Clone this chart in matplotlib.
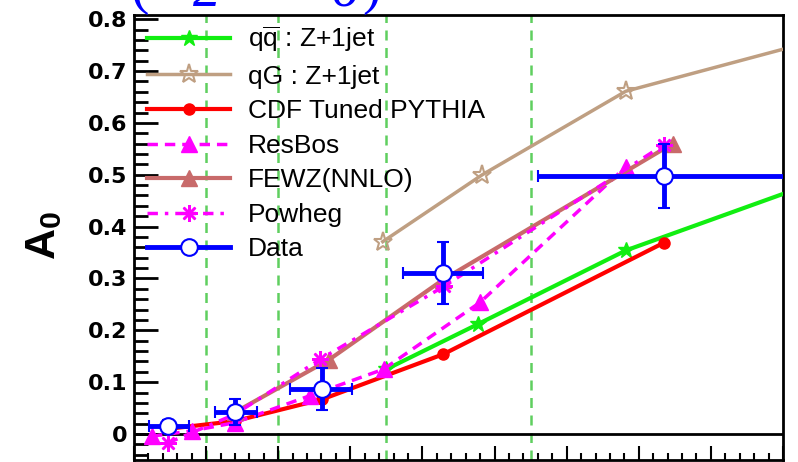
import matplotlib
matplotlib.use("Agg")
import matplotlib.pyplot as plt
from matplotlib.lines import Line2D

plt.rcParams['font.family'] = ['Liberation Sans', 'DejaVu Sans']
plt.rcParams['mathtext.fontset'] = 'custom'
plt.rcParams['mathtext.rm'] = 'Liberation Sans'
plt.rcParams['mathtext.bf'] = 'Liberation Sans:bold'

# bin edges drawn as dashed lines
bin_edges = [10, 20, 35, 55]

# measured A0 (open circles)
data_x = [4.7, 14.0, 26.1, 42.9, 73.5]
data_y = [0.015, 0.042, 0.087, 0.310, 0.498]
data_xlo = [2.1, 11.2, 21.6, 37.3, 56.0]
data_xhi = [7.6, 17.1, 30.2, 48.4, 95.0]
data_err = [0.012, 0.025, 0.040, 0.060, 0.062]

# predictions
qq_x = [35.0, 47.7, 68.2, 90.0]
qq_y = [0.125, 0.212, 0.354, 0.463]
qg_x = [34.5, 48.3, 68.2, 90.0]
qg_y = [0.371, 0.500, 0.661, 0.742]
pythia_x = [4.7, 14.0, 26.1, 42.9, 73.5]
pythia_y = [0.010, 0.025, 0.067, 0.154, 0.369]
resbos_x = [2.5, 8.0, 14.0, 24.4, 34.6, 48.0, 68.2]
resbos_y = [-0.004, 0.006, 0.022, 0.074, 0.125, 0.254, 0.515]
fewz_x = [14.0, 27.0, 42.9, 74.7]
fewz_y = [0.042, 0.143, 0.298, 0.560]
powheg_x = [4.7, 14.0, 25.8, 43.0, 73.5]
powheg_y = [-0.017, 0.038, 0.144, 0.285, 0.558]

c_qq = '#11ee11'
c_qg = '#bf9f82'
c_red = '#ff0000'
c_mag = '#ff00ff'
c_fewz = '#c86a6a'
c_blue = '#0000ff'

fig = plt.figure(figsize=(7.98, 4.62), dpi=100)
ax = fig.add_axes([134/798, 2/462, (783-134)/798, (460-15)/462])

for e in bin_edges:
    ax.axvline(e, color='#5fcf5f', lw=1.8, ls=(0, (4, 3)), zorder=1, clip_on=False)
ax.axhline(0, color='black', lw=2, zorder=1.5)

ax.plot(qq_x, qq_y, color=c_qq, lw=3, marker='*', ms=12, markevery=[0, 1, 2], zorder=3,
        label=r'q$\overline{\mathrm{q}}$ : Z+1jet')
ax.plot(qg_x, qg_y, color=c_qg, lw=2.5, marker='*', ms=14, mfc='none', mew=1.5,
        markevery=[0, 1, 2], zorder=3, label='qG : Z+1jet')
ax.plot(pythia_x, pythia_y, color=c_red, lw=3, marker='o', ms=8, zorder=3,
        label='CDF Tuned PYTHIA')
ax.plot(resbos_x, resbos_y, color=c_mag, lw=2.5, ls=(0, (3, 2)), marker='^', ms=11, zorder=3,
        label='ResBos')
ax.plot(fewz_x, fewz_y, color=c_fewz, lw=3, marker='^', ms=12, zorder=3,
        label='FEWZ(NNLO)')
ax.plot(powheg_x, powheg_y, color=c_mag, lw=2.5, ls=(0, (3, 2, 1, 2)), marker=(8, 2, 0),
        ms=12, mew=1.8, zorder=3, label='Powheg')

xerr = [[x - lo for x, lo in zip(data_x, data_xlo)], [hi - x for x, hi in zip(data_x, data_xhi)]]
ax.errorbar(data_x, data_y, xerr=xerr, yerr=data_err, fmt='o', color=c_blue, mfc='white',
            mec=c_blue, ms=12, mew=1.5, elinewidth=3.5, capsize=4, capthick=3.5, zorder=5)

handles, labels = ax.get_legend_handles_labels()
data_handle = Line2D([], [], color=c_blue, lw=3.5, marker='o', ms=12, mfc='white', mec=c_blue, mew=1.5)
handles.append(data_handle)
labels.append('Data')
leg = ax.legend(handles, labels, loc='upper left', bbox_to_anchor=(0.02, 0.979), frameon=False,
                fontsize=19, handlelength=3.15, handletextpad=0.68, labelspacing=0.4,
                borderpad=0, borderaxespad=0, numpoints=1)

ax.set_xlim(0, 90)
ax.set_ylim(-0.05, 0.808)
ax.set_xticks(range(0, 91, 10))
ax.set_xticks(range(0, 91, 2), minor=True)
ax.set_yticks([0, 0.1, 0.2, 0.3, 0.4, 0.5, 0.6, 0.7, 0.8])
ax.set_yticklabels(['0', '0.1', '0.2', '0.3', '0.4', '0.5', '0.6', '0.7', '0.8'])
ax.set_yticks([i * 0.02 for i in range(-2, 41)], minor=True)
ax.tick_params(axis='x', which='major', direction='in', length=10, width=1.5, labelbottom=False)
ax.tick_params(axis='x', which='minor', direction='in', length=5, width=1.5)
ax.tick_params(axis='y', which='major', direction='in', length=17, width=2, pad=5)
ax.tick_params(axis='y', which='minor', direction='in', length=10, width=2)
for lab in ax.get_yticklabels():
    lab.set_family('DejaVu Sans')
    lab.set_fontweight('bold')
    lab.set_fontsize(16)
for s in ax.spines.values():
    s.set_linewidth(2)

fig.text(44/798, 1 - 235/462, r'$\mathbf{A_0}$', rotation=90, fontsize=31,
         ha='center', va='center')

# bottom of the big formula cut off at the top of the picture
top_font = dict(family='Liberation Serif', color=c_blue, fontsize=40)
fig.text(140/798, 1 - 15/462, '(', ha='center', va='bottom', **top_font)
fig.text(207/798, 1 - 6/462, '2', ha='center', va='baseline', style='italic', **top_font)
fig.text(345/798, 1 - 6/462, '6', ha='center', va='baseline', style='italic', **top_font)
fig.text(372/798, 1 - 15/462, ')', ha='center', va='bottom', **top_font)

fig.savefig('out.png', dpi=100)
